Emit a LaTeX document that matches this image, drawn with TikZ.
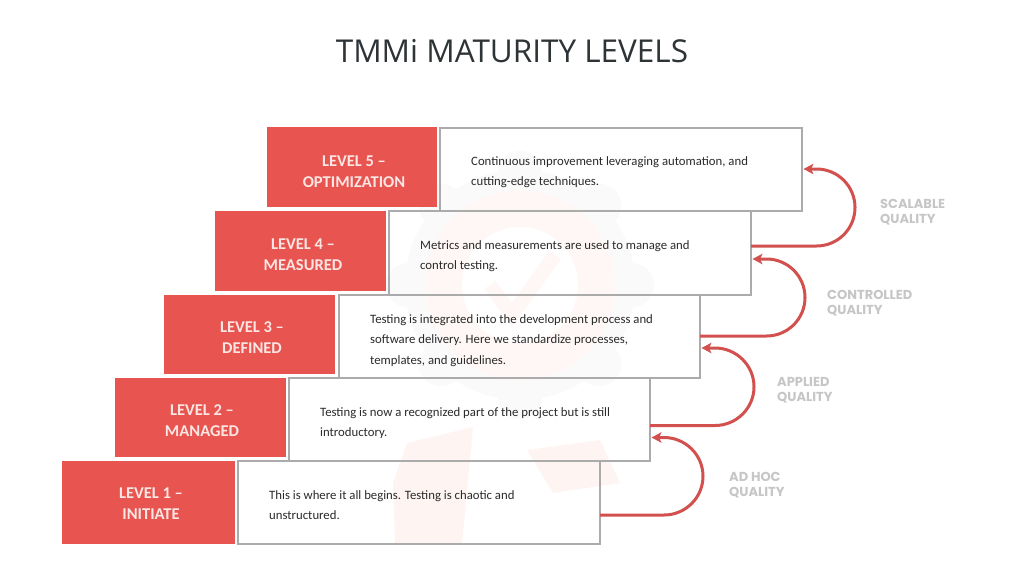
\documentclass[tikz,border=0pt]{standalone}
\usepackage{fontspec}
\setmainfont{Carlito}
\newfontfamily\titlefont{Open Sans}
\newfontfamily\qualfont{Poppins}
\usetikzlibrary{arrows.meta}
\definecolor{lvlred}{HTML}{E85450}
\definecolor{arrowred}{HTML}{D2514F}
\definecolor{boxgrey}{HTML}{ABABAB}
\definecolor{qualgrey}{HTML}{C6C6C6}
\definecolor{bodytext}{HTML}{2A2A2A}
\definecolor{lvltext}{HTML}{FBE6E3}
\definecolor{titletext}{HTML}{2E3336}
\definecolor{wmark}{HTML}{FEF7F6}
\definecolor{wmarkb}{HTML}{FBFAFA}
\definecolor{ribbon}{HTML}{FEF5F3}
\tikzset{
  lvllabel/.style={text=lvltext,font=\fontsize{16.5}{21}\selectfont\bfseries,align=center},
  bodylabel/.style={text=bodytext,font=\fontsize{12.75}{20.5}\selectfont,align=left,anchor=north west,inner sep=0pt},
  quallabel/.style={text=qualgrey,font=\qualfont\bfseries\fontsize{13}{15.5}\selectfont,align=left,anchor=north west,inner sep=0pt},
  flow/.style={draw=arrowred,line width=3pt,-{Stealth[length=10pt,width=10.5pt,inset=2.5pt]}},
  box/.style={draw=boxgrey,line width=2pt}
}
\begin{document}
\begin{tikzpicture}[x=1pt,y=-1pt]
\useasboundingbox (0,0) rectangle (1024,576);
\fill[white] (0,0) rectangle (1024,576);
% watermark
\fill[ribbon] (393,483) -- (407,443) -- (473,427) -- (462,544) -- (395,544) -- cycle;
\fill[ribbon] (527,450) -- (553,493) -- (620,483) -- (600,440) -- cycle;
\foreach \a in {0,45,...,315} {\fill[wmarkb] (520,285) ++(\a:112) circle (22);}
\fill[wmarkb] (520,285) circle (115);
\fill[wmark] (520,285) circle (95);
\fill[white] (520,285) circle (58);
\draw[wmark,line width=14pt] (490,285) -- (512,315) -- (555,255);
% title
\node[font=\titlefont\fontsize{31.5}{36}\selectfont,text=titletext] (title) at (512,51) {TMMi MATURITY LEVELS};
% red boxes
\fill[lvlred] (267,127) rectangle (437,207);
\fill[lvlred] (215,211) rectangle (386,291);
\fill[lvlred] (164,295) rectangle (335,374);
\fill[lvlred] (115,378) rectangle (286,457);
\fill[lvlred] (62,461) rectangle (235,544);
\node[lvllabel] (l5) at (354,171.5) {LEVEL 5 –\\OPTIMIZATION};
\node[lvllabel] (l4) at (303,254.5) {LEVEL 4 –\\MEASURED};
\node[lvllabel] (l3) at (252,337.5) {LEVEL 3 –\\DEFINED};
\node[lvllabel] (l2) at (202,420.5) {LEVEL 2 –\\MANAGED};
\node[lvllabel] (l1) at (151,503.5) {LEVEL 1 –\\INITIATE};
% white boxes
\coordinate (w5nw) at (440,128); \coordinate (w5se) at (802,211);
\coordinate (w4nw) at (389,211); \coordinate (w4se) at (751,295);
\coordinate (w3nw) at (339,295); \coordinate (w3se) at (700,378);
\coordinate (w2nw) at (289,378); \coordinate (w2se) at (650,461);
\coordinate (w1nw) at (238,461); \coordinate (w1se) at (600,544);
\foreach \n in {1,...,5} {\draw[box] (w\n nw) rectangle (w\n se);}
% body
\node[bodylabel] (b5) at (471,156) {Continuous improvement leveraging automation, and\\cutting-edge techniques.};
\node[bodylabel] (b4) at (420,240) {Metrics and measurements are used to manage and\\control testing.};
\node[bodylabel] (b3) at (370,314) {Testing is integrated into the development process and\\software delivery. Here we standardize processes,\\templates, and guidelines.};
\node[bodylabel] (b2) at (320,407) {Testing is now a recognized part of the project but is still\\introductory.};
\node[bodylabel] (b1) at (269,490) {This is where it all begins. Testing is chaotic and\\unstructured.};
% arrows
\coordinate (a1s) at (600,515); \coordinate (a1e) at (651.5,437.5);
\coordinate (a2s) at (650,425.5); \coordinate (a2e) at (701.5,348);
\coordinate (a3s) at (700,336); \coordinate (a3e) at (752.5,259);
\coordinate (a4s) at (751,246); \coordinate (a4e) at (803.5,169);
\draw[flow] (a1s) -- (664,515) .. controls (685.4,515) and (703,497.7) .. (703,476.2) .. controls (703,454.8) and (685.4,437.5) .. (664,437.5) -- (a1e);
\draw[flow] (a2s) -- (715,425.5) .. controls (736.4,425.5) and (754,408.2) .. (754,386.8) .. controls (754,365.3) and (736.4,348) .. (715,348) -- (a2e);
\draw[flow] (a3s) -- (766.5,336) .. controls (787.8,336) and (805,318.8) .. (805,297.5) .. controls (805,276.2) and (787.8,259) .. (766.5,259) -- (a3e);
\draw[flow] (a4s) -- (816.5,246) .. controls (837.8,246) and (855,228.8) .. (855,207.5) .. controls (855,186.2) and (837.8,169) .. (816.5,169) -- (a4e);
% quality labels
\node[quallabel] (q4) at (880,199) {SCALABLE\\QUALITY};
\node[quallabel] (q3) at (827,290) {CONTROLLED\\QUALITY};
\node[quallabel] (q2) at (777,377) {APPLIED\\QUALITY};
\node[quallabel] (q1) at (729,472) {AD HOC\\QUALITY};
\end{tikzpicture}
\end{document}
